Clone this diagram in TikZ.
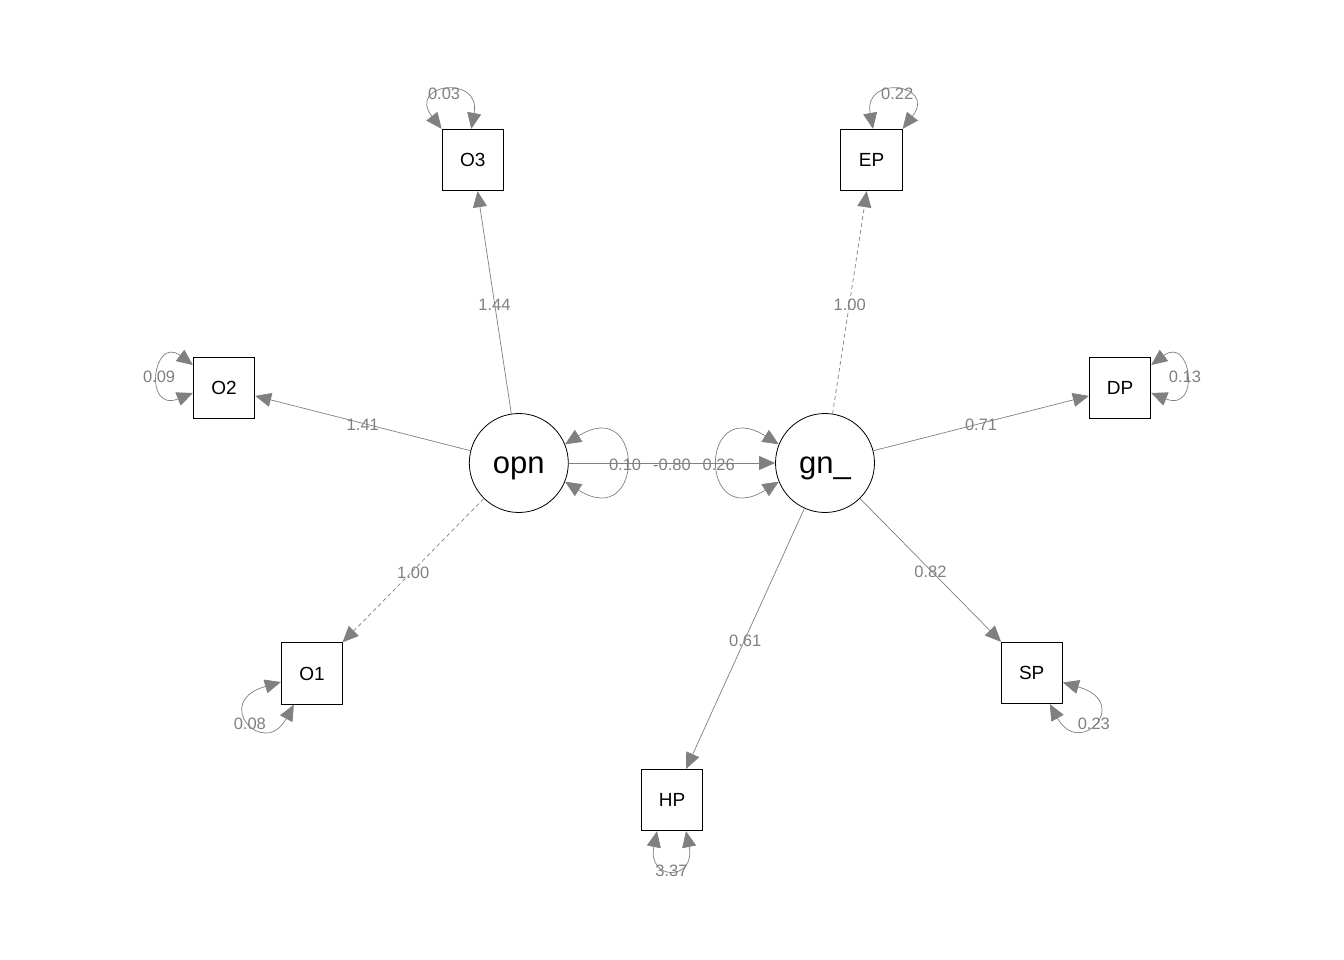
\documentclass[tikz,border=0pt]{standalone}
\usepackage{fontspec}
\setmainfont{Liberation Sans}
\usetikzlibrary{arrows.meta,calc}
\begin{document}
\begin{tikzpicture}[x=1pt,y=-1pt,
  lat/.style={circle,draw=black,line width=0.8pt,minimum size=99pt,inner sep=0pt,text height=21pt,text depth=0pt,font=\fontsize{31}{31}\selectfont},
  obs/.style={rectangle,draw=black,line width=0.8pt,minimum size=61.5pt,inner sep=0pt,font=\fontsize{19}{19}\selectfont},
  edge/.style={draw=gray,line width=0.7pt,-{Triangle[length=16pt,width=14pt]}},
  dedge/.style={edge,dash pattern=on 4pt off 3pt},
  res/.style={draw=gray,line width=0.7pt,{Triangle[length=16pt,width=14pt]}-{Triangle[length=16pt,width=14pt]}},
  lbl/.style={text=gray,font=\fontsize{16.5}{16.5}\selectfont,inner sep=0pt,yshift=-2pt}]
\fill[white] (0,0) rectangle (1344,960);
\useasboundingbox (0,0) rectangle (1344,960);
% latent variables
\node[lat] (opn) at (518.8,463) {opn};
\node[lat] (gn) at (825,463) {gn\_};
% observed variables
\node[obs] (O3) at (472.8,160) {O3};
\node[obs] (O2) at (224,388) {O2};
\node[obs] (O1) at (312,673.5) {O1};
\node[obs] (EP) at (871.5,160) {EP};
\node[obs] (DP) at (1120,388) {DP};
\node[obs] (SP) at (1031.7,673) {SP};
\node[obs] (HP) at (672,800) {HP};
% loadings
\draw[edge] (opn) -- (O3) node[lbl,midway]{1.44};
\draw[edge] (opn) -- (O2) node[lbl,midway]{1.41};
\draw[dedge] (opn) -- (O1) node[lbl,midway]{1.00};
\draw[dedge] (gn) -- (EP) node[lbl,midway]{1.00};
\draw[edge] (gn) -- (DP) node[lbl,midway]{0.71};
\draw[edge] (gn) -- (SP) node[lbl,midway]{0.82};
\draw[edge] (gn) -- (HP) node[lbl,midway]{0.61};
% regression
\draw[edge] (opn) -- (gn) node[lbl,midway]{-0.80};
% latent residuals
\draw[res] (opn.22) .. controls +(80,-50) and +(80,50) .. (opn.-22) node[lbl,pos=0.5]{0.10};
\draw[res] (gn.158) .. controls +(-80,-50) and +(-80,50) .. (gn.202) node[lbl,pos=0.5]{0.26};
% observed residuals
\draw[res] (O3.north west) .. controls +(-35,-45) and +(10,-55) .. ($(O3.north)+(-1.5,0)$) node[lbl,pos=0.5,xshift=-3pt]{0.03};
\draw[res] ($(EP.north)+(1.5,0)$) .. controls +(-10,-55) and +(35,-45) .. (EP.north east) node[lbl,pos=0.5]{0.22};
\draw[res] ($(O2.west)+(0,-23)$) .. controls +(-40,-30) and +(-50,20) .. ($(O2.west)+(0,5)$) node[lbl,pos=0.5]{0.09};
\draw[res] ($(DP.east)+(0,-23)$) .. controls +(40,-30) and +(50,20) .. ($(DP.east)+(0,5)$) node[lbl,pos=0.5]{0.13};
\draw[res] ($(O1.west)+(0,8.5)$) .. controls +(-70,20) and +(-30,55) .. ($(O1.south west)+(13,0)$) node[lbl,pos=0.5]{0.08};
\draw[res] ($(SP.east)+(0,9.5)$) .. controls +(70,20) and +(30,55) .. ($(SP.south east)+(-13,0)$) node[lbl,pos=0.5]{0.23};
\draw[res] ($(HP.south)+(-15,0)$) .. controls +(-10,50) and +(10,50) .. ($(HP.south)+(14,0)$) node[lbl,pos=0.5]{3.37};
\end{tikzpicture}
\end{document}
